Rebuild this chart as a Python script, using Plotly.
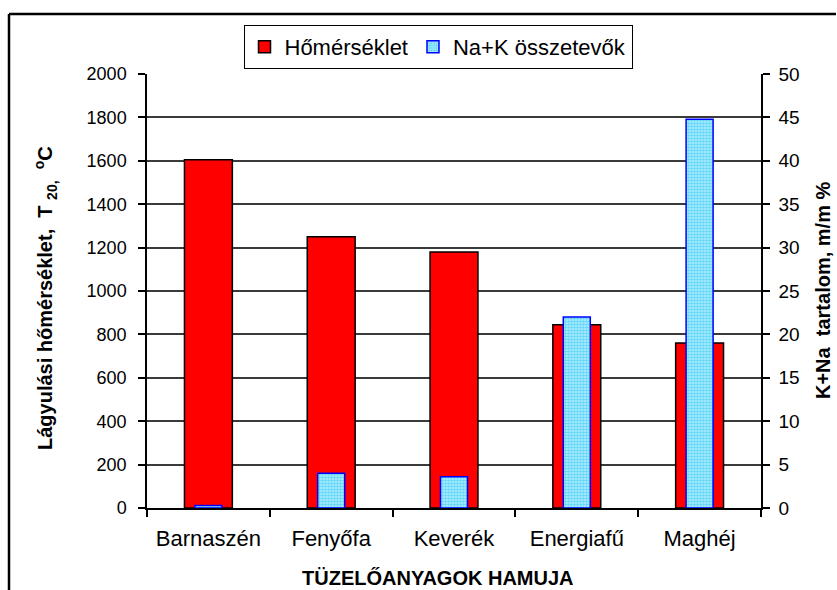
import plotly.graph_objects as go

categories = ["Barnaszén", "Fenyőfa", "Keverék", "Energiafű", "Maghéj"]
temperature = [1605, 1250, 1180, 845, 760]          # °C, left axis
na_k_content = [0.3, 4.0, 3.6, 22.0, 44.8]          # m/m %, right axis

FONT = "Arial, Liberation Sans, sans-serif"
W, H = 837, 590
L, R, T, B = 147, 76, 74, 82
pw, ph = W - L - R, H - T - B

def px(x):
    return (x - L) / pw

def py(y):
    return (H - B - y) / ph

fig = go.Figure()
fig.add_trace(go.Bar(
    x=categories, y=temperature, name="Hőmérséklet",
    marker=dict(color="#FF0000", line=dict(color="#000000", width=1.5)),
    width=0.39, yaxis="y",
))
fig.add_trace(go.Bar(
    x=categories, y=na_k_content, name="Na+K összetevők",
    marker=dict(color="#80D8F8", line=dict(color="#0000FF", width=1.5),
                pattern=dict(shape=".", fgcolor="#00BDF2", bgcolor="#BDEEFF",
                             size=3, solidity=0.6)),
    width=0.22, yaxis="y2",
))

fig.update_layout(
    width=W, height=H,
    margin=dict(l=L, r=R, t=T, b=B, autoexpand=False),
    paper_bgcolor="white", plot_bgcolor="white",
    barmode="overlay",
    font=dict(family=FONT, size=18, color="black"),
    showlegend=True,
    legend=dict(orientation="h", x=px(438), y=py(25), xanchor="center", yanchor="top",
                bordercolor="black", borderwidth=1, bgcolor="white",
                font=dict(family=FONT, size=22), itemwidth=30,
                traceorder="normal"),
    xaxis=dict(
        type="category", showline=True, linecolor="black", linewidth=1.5,
        ticks="outside", tickson="boundaries", ticklen=7, tickcolor="black",
        tickwidth=1.5, showgrid=False, tickfont=dict(size=22),
        ticklabelstandoff=10, mirror=False,
    ),
    yaxis=dict(
        range=[0, 2000], dtick=200, showline=True, linecolor="black", linewidth=1.5,
        ticks="outside", ticklen=7, tickcolor="black", tickwidth=1.5,
        showgrid=True, gridcolor="#3a3a3a", gridwidth=1.5,
        tickfont=dict(size=18), ticklabelstandoff=8, zeroline=False,
    ),
    yaxis2=dict(
        range=[0, 50], dtick=5, overlaying="y", side="right",
        showline=True, linecolor="black", linewidth=1.5,
        ticks="outside", ticklen=7, tickcolor="black", tickwidth=1.5,
        showgrid=False, zeroline=False, tickfont=dict(size=19),
        ticklabelstandoff=5,
    ),
)

fig.add_annotation(
    text="<b>Lágyulási hőmérséklet,  T <sub>20,</sub>  <sup>o</sup>C</b>",
    xref="paper", yref="paper", x=px(45), y=py(298), xanchor="center", yanchor="middle",
    textangle=-90, showarrow=False, font=dict(family=FONT, size=20),
)
fig.add_annotation(
    text="<b>K+Na  tartalom, m/m %</b>",
    xref="paper", yref="paper", x=px(823), y=py(290), xanchor="center", yanchor="middle",
    textangle=-90, showarrow=False, font=dict(family=FONT, size=20),
)
fig.add_annotation(
    text="<b>TÜZELŐANYAGOK HAMUJA</b>",
    xref="paper", yref="paper", x=px(438), y=py(578), xanchor="center", yanchor="middle",
    showarrow=False, font=dict(family=FONT, size=20),
)

# outer chart frame (left and top edges visible)
fig.add_shape(type="line", xref="paper", yref="paper",
              x0=px(9), x1=px(836), y0=py(14), y1=py(14),
              line=dict(color="black", width=2.5))
fig.add_shape(type="line", xref="paper", yref="paper",
              x0=px(9), x1=px(9), y0=py(14), y1=py(600),
              line=dict(color="black", width=2.5))

fig.write_html("out.html", config={"displayModeBar": False},
               post_script="document.body.style.margin='0px';document.body.style.overflow='hidden';")
